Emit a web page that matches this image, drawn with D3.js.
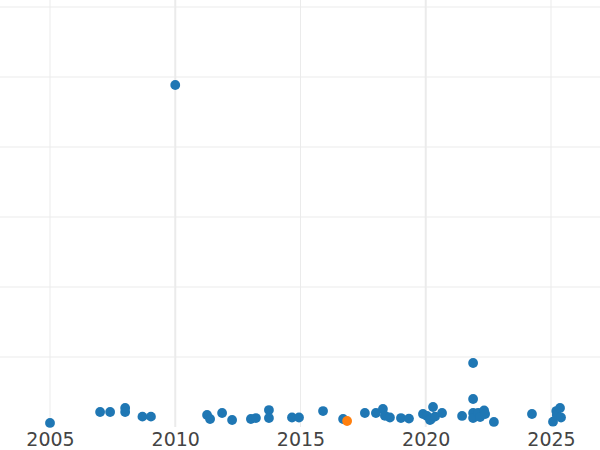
<!DOCTYPE html>
<html>
<head>
<meta charset="utf-8">
<script src="https://cdn.jsdelivr.net/npm/d3@7"></script>
<style>
  html, body { margin: 0; padding: 0; background: #fff; }
  svg { display: block; }
</style>
</head>
<body>
<svg id="chart" width="600" height="450"></svg>
<script>
// Data (decimal year, value)
const years = [
  2005.00, 2007.00, 2007.40, 2008.00, 2008.00, 2008.69, 2009.03, 2010.00,
  2011.27, 2011.39, 2011.87, 2012.27, 2013.02, 2013.22, 2013.74, 2013.74,
  2014.66, 2014.94, 2015.90, 2016.70, 2017.57, 2018.01, 2018.29, 2018.37,
  2018.57, 2019.01, 2019.33, 2019.89, 2020.05, 2020.17, 2020.21, 2020.29,
  2020.37, 2020.65, 2021.45, 2021.89, 2021.89, 2021.89, 2021.89, 2022.09,
  2022.17, 2022.33, 2022.37, 2022.72, 2024.24, 2025.08, 2025.21, 2025.23,
  2025.36, 2025.40
];
const values = [
  2.9, 10.7, 10.7, 13.6, 10.7, 7.4, 7.4, 244.3,
  8.6, 5.7, 10.0, 5.0, 5.7, 6.4, 12.1, 6.4,
  6.8, 6.8, 11.4, 5.7, 10.0, 10.0, 12.9, 8.0,
  6.8, 6.4, 6.0, 9.3, 7.9, 5.0, 5.7, 14.3,
  7.4, 10.0, 7.9, 20.0, 45.7, 10.0, 6.4, 10.0,
  7.1, 11.9, 9.3, 3.6, 9.3, 3.8, 11.4, 8.6,
  13.6, 6.8
];
// highlighted point
const hiYears = [2016.86];
const hiValues = [4.3];

const xTicks = [2005, 2010, 2015, 2020, 2025];
const xTickLabels = ["2005", "2010", "2015", "2020", "2025"];
const heavyTicks = [2010, 2020];
const yGrid = [50, 100, 150, 200, 250, 300];

const W = 600, H = 450;
const svg = d3.select("#chart");

const x = d3.scaleLinear().domain([2003.004, 2026.956]).range([0, 600]);
const y = d3.scaleLinear().domain([0, 300]).range([427, 7]);

const grid = svg.append("g");
grid.selectAll("line.h").data(yGrid).join("line")
  .attr("class", "h")
  .attr("x1", 0).attr("x2", W)
  .attr("y1", d => y(d)).attr("y2", d => y(d))
  .attr("stroke", "#ebebeb").attr("stroke-width", 1);
grid.selectAll("line.v").data(xTicks).join("line")
  .attr("class", "v")
  .attr("x1", d => x(d)).attr("x2", d => x(d))
  .attr("y1", 0).attr("y2", 427)
  .attr("stroke", "#ebebeb")
  .attr("stroke-width", d => heavyTicks.includes(d) ? 2 : 1);

const xAxis = d3.axisBottom(x).tickValues(xTicks)
  .tickFormat((d, i) => xTickLabels[i]).tickSize(0).tickPadding(0);
const ax = svg.append("g").attr("transform", "translate(0,432)").call(xAxis);
ax.select(".domain").remove();
ax.selectAll("text")
  .attr("fill", "#444")
  .attr("dy", "0.71em")
  .style("font-family", "DejaVu Sans, sans-serif")
  .style("font-size", "19px");

const pts = years.map((d, i) => ({ x: d, y: values[i] }));
svg.append("g").selectAll("circle").data(pts).join("circle")
  .attr("cx", d => x(d.x)).attr("cy", d => y(d.y)).attr("r", 4.9)
  .attr("fill", "#1f77b4");

const hi = hiYears.map((d, i) => ({ x: d, y: hiValues[i] }));
svg.append("g").selectAll("circle").data(hi).join("circle")
  .attr("cx", d => x(d.x)).attr("cy", d => y(d.y)).attr("r", 4.9)
  .attr("fill", "#ff7f0e");
</script>
</body>
</html>
